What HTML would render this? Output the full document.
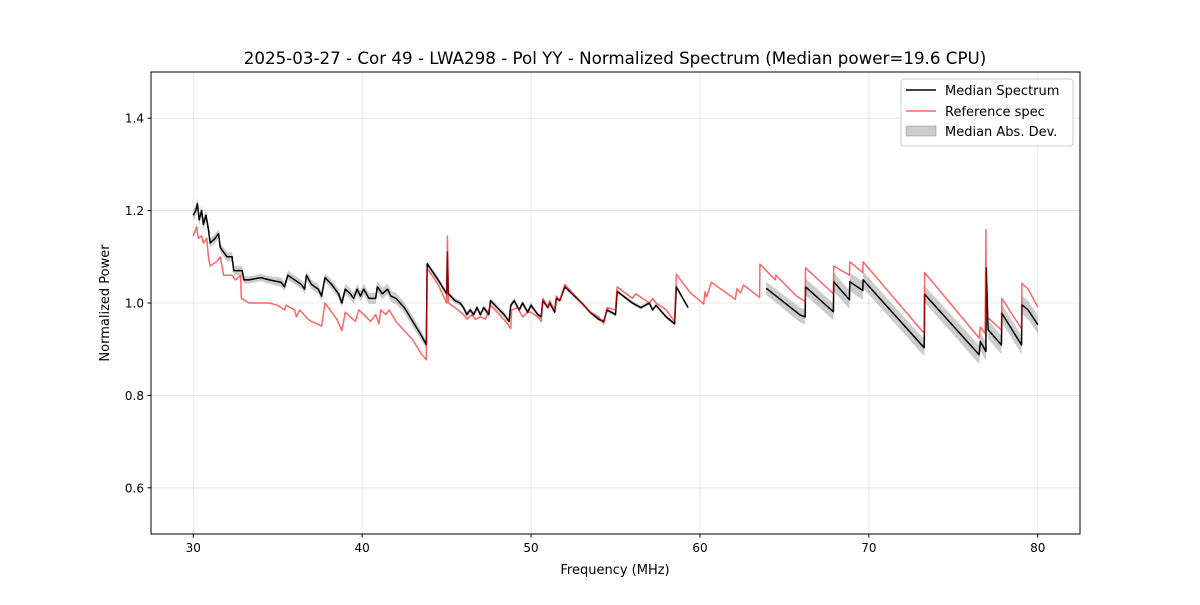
<!DOCTYPE html>
<html><head><meta charset="utf-8">
<style>
body{margin:0;background:#fff;font-family:"Liberation Sans","DejaVu Sans",sans-serif;}
svg text{font-family:"DejaVu Sans","Liberation Sans",sans-serif;}
</style></head>
<body>
<svg id="chart" width="1200" height="600" xmlns="http://www.w3.org/2000/svg">
<rect width="1200" height="600" fill="#fff"/>
<text x="615" y="64" font-size="16.7" text-anchor="middle">2025-03-27 - Cor 49 - LWA298 - Pol YY - Normalized Spectrum (Median power=19.6 CPU)</text>
<g id="grid"></g>
<clipPath id="clip"><rect x="151" y="72" width="929" height="462"/></clipPath>
<g id="series" clip-path="url(#clip)"></g>
<rect x="151" y="72" width="929" height="462" fill="none" stroke="#000" stroke-width="1"/>
<g id="ticks"></g>
<text x="615" y="574" font-size="13" text-anchor="middle">Frequency (MHz)</text>
<text transform="translate(109,303) rotate(-90)" font-size="13" text-anchor="middle">Normalized Power</text>
<g>
<rect x="901" y="79" width="172" height="67" fill="#fff" fill-opacity="0.8" stroke="#ccc" rx="3"/>
<line x1="906" y1="90" x2="936" y2="90" stroke="#000" stroke-width="1.5"/>
<text x="945" y="95" font-size="13">Median Spectrum</text>
<line x1="906" y1="111" x2="936" y2="111" stroke="#ff0000" stroke-opacity="0.6" stroke-width="1.5"/>
<text x="945" y="116" font-size="13">Reference spec</text>
<rect x="906" y="126" width="30" height="10" fill="#000" fill-opacity="0.2" stroke="#000" stroke-opacity="0.2"/>
<text x="945" y="136" font-size="13">Median Abs. Dev.</text>
</g>
</svg>
<script>
const xTicks=[30,40,50,60,70,80];
const yTicks=[0.6,0.8,1.0,1.2,1.4];
const yTickLabels=["0.6","0.8","1.0","1.2","1.4"];
const medFreq=[30.0,30.15,30.25,30.35,30.5,30.6,30.75,30.9,31.0,31.3,31.5,31.6,31.8,32.0,32.3,32.4,32.7,32.9,33.0,33.3,34.0,34.5,35.2,35.4,35.6,36.0,36.4,36.6,36.7,37.0,37.4,37.6,37.8,38.2,38.6,38.8,39.0,39.3,39.5,39.7,39.9,40.1,40.4,40.6,40.8,40.9,41.2,41.5,41.7,42.0,42.5,43.0,43.5,43.8,43.85,44.5,45.0,45.05,45.1,45.5,45.8,46.0,46.2,46.4,46.6,46.8,47.0,47.2,47.5,47.6,48.0,48.4,48.7,48.8,49.0,49.3,49.5,49.8,50.0,50.4,50.6,50.7,51.0,51.1,51.4,51.5,51.7,52.0,53.0,53.5,54.0,54.3,54.5,55.0,55.1,56.0,56.5,57.0,57.2,57.4,58.0,58.5,58.6,59.3,
 null,
 63.92,65.93,66.23,66.25,67.9,67.92,68.85,68.87,69.64,69.66,73.28,73.3,76.53,76.6,76.93,76.95,77.06,77.85,77.87,79.04,79.06,79.43,80.0];
const medVal=[1.19,1.2,1.215,1.18,1.2,1.17,1.19,1.16,1.13,1.14,1.15,1.12,1.11,1.1,1.1,1.07,1.07,1.07,1.05,1.05,1.055,1.05,1.045,1.035,1.06,1.05,1.04,1.03,1.06,1.04,1.03,1.015,1.055,1.04,1.02,1.0,1.03,1.02,1.01,1.03,1.015,1.03,1.01,1.01,1.01,1.035,1.02,1.03,1.015,1.01,0.99,0.96,0.93,0.91,1.085,1.05,1.02,1.11,1.02,1.005,1.0,0.99,0.975,0.985,0.975,0.99,0.975,0.99,0.975,1.005,0.99,0.975,0.96,0.995,1.005,0.985,1.0,0.98,0.995,0.975,0.97,1.005,0.99,1.0,0.98,1.01,1.005,1.035,1.0,0.98,0.965,0.96,0.985,0.975,1.025,1.0,0.99,1.0,0.985,0.995,0.97,0.955,1.035,0.99,
 null,
 1.032,0.974,0.97,1.035,0.981,1.046,1.007,1.046,1.027,1.05,0.903,1.019,0.888,0.917,0.895,1.076,0.942,0.909,0.978,0.909,0.996,0.985,0.953];
const medMad=[0.012,0.012,0.012,0.012,0.012,0.012,0.012,0.012,0.01,0.01,0.01,0.01,0.01,0.01,0.01,0.01,0.01,0.01,0.008,0.008,0.008,0.008,0.01,0.01,0.01,0.01,0.01,0.01,0.01,0.01,0.01,0.01,0.01,0.01,0.01,0.01,0.012,0.012,0.012,0.012,0.012,0.012,0.012,0.012,0.012,0.012,0.012,0.012,0.012,0.012,0.012,0.012,0.01,0.008,0.006,0.006,0.006,0.004,0.006,0.006,0.006,0.006,0.006,0.006,0.006,0.006,0.006,0.006,0.006,0.006,0.006,0.006,0.006,0.006,0.006,0.006,0.006,0.006,0.006,0.004,0.004,0.004,0.004,0.004,0.004,0.004,0.004,0.004,0.004,0.004,0.004,0.004,0.004,0.004,0.004,0.004,0.004,0.004,0.004,0.004,0.004,0.004,0.004,0.004,
 null,
 0.014,0.016,0.016,0.018,0.018,0.02,0.02,0.02,0.02,0.018,0.018,0.018,0.02,0.02,0.02,0.02,0.02,0.02,0.02,0.02,0.02,0.02,0.02];
const refFreq=[30.0,30.2,30.3,30.5,30.6,30.8,30.9,31.0,31.4,31.6,31.8,32.3,32.5,32.8,32.85,33.3,34.0,34.5,35.0,35.2,35.4,35.5,36.0,36.1,36.3,36.8,37.0,37.6,37.8,38.5,38.8,39.0,39.3,39.6,39.8,40.1,40.5,40.8,41.0,41.1,41.4,41.6,42.0,42.5,43.0,43.5,43.8,43.85,44.5,45.0,45.05,45.1,45.5,46.0,46.2,46.5,46.7,47.0,47.3,47.6,48.0,48.5,48.8,48.85,49.2,49.5,49.8,50.0,50.4,50.6,50.7,51.0,51.1,51.4,51.5,51.7,52.0,53.0,53.5,54.0,54.3,54.5,55.0,55.1,56.0,56.2,57.0,57.2,57.4,58.0,58.5,58.6,59.43,60.22,60.3,60.4,60.67,62.09,62.2,62.4,62.58,63.53,63.55,64.46,64.5,65.74,66.23,66.25,67.9,67.92,68.85,68.87,69.64,69.66,73.28,73.3,76.53,76.6,76.88,76.93,76.95,77.0,77.85,77.87,79.04,79.06,79.43,80.0];
const refVal=[1.145,1.165,1.14,1.145,1.13,1.14,1.1,1.08,1.09,1.1,1.06,1.06,1.05,1.06,1.01,1.0,1.0,1.0,0.995,0.99,0.985,0.995,0.985,0.97,0.985,0.965,0.96,0.95,1.0,0.965,0.94,0.98,0.97,0.96,0.985,0.975,0.96,0.975,0.955,0.985,0.975,0.985,0.96,0.94,0.92,0.89,0.877,1.075,1.04,1.0,1.145,1.0,0.99,0.975,0.965,0.975,0.965,0.97,0.965,0.995,0.98,0.96,0.945,0.985,0.99,0.97,0.98,0.98,0.97,0.96,1.01,0.99,1.005,0.985,1.015,1.005,1.04,1.0,0.98,0.97,0.955,0.99,0.985,1.035,1.01,1.02,1.0,1.01,1.0,0.985,0.96,1.062,1.022,0.998,1.024,1.013,1.045,1.008,1.031,1.022,1.039,1.012,1.084,1.05,1.06,1.014,1.003,1.076,1.02,1.08,1.06,1.089,1.066,1.089,0.934,1.066,0.924,0.948,0.934,1.159,0.97,0.97,0.941,1.01,0.944,1.043,1.03,0.991];

const X0=151,X1=1080,Y0=534,Y1=72,xmin=27.5,xmax=82.5,ymin=0.5,ymax=1.5;
const sx=f=>X0+(f-xmin)/(xmax-xmin)*(X1-X0);
const sy=v=>Y0-(v-ymin)/(ymax-ymin)*(Y0-Y1);
const NS="http://www.w3.org/2000/svg";
function mk(tag,attrs,parent){const e=document.createElementNS(NS,tag);for(const k in attrs)e.setAttribute(k,attrs[k]);parent.appendChild(e);return e;}
const grid=document.getElementById('grid'),ticks=document.getElementById('ticks'),ser=document.getElementById('series');
xTicks.forEach(t=>{
 const g=mk('line',{x1:sx(t),x2:sx(t),y1:Y1,y2:Y0,stroke:'#b0b0b0','stroke-opacity':0.35,'stroke-width':0.8},grid);
 
 
 mk('line',{x1:sx(t),x2:sx(t),y1:Y0,y2:Y0+3.5,stroke:'#000'},ticks);
 const tx=mk('text',{x:sx(t),y:Y0+18,'font-size':12,'text-anchor':'middle'},ticks);tx.textContent=t;
 
 
});
yTicks.forEach((t,i)=>{
 const g=mk('line',{x1:X0,x2:X1,y1:sy(t),y2:sy(t),stroke:'#b0b0b0','stroke-opacity':0.35,'stroke-width':0.8},grid);
 
 
 mk('line',{x1:X0-3.5,x2:X0,y1:sy(t),y2:sy(t),stroke:'#000'},ticks);
 const tx=mk('text',{x:X0-7,y:sy(t)+4.5,'font-size':12,'text-anchor':'end'},ticks);tx.textContent=yTickLabels[i];
 
 
});
function segments(fs){const segs=[];let cur=[];fs.forEach((f,i)=>{if(f===null){if(cur.length)segs.push(cur);cur=[];}else cur.push(i);});if(cur.length)segs.push(cur);return segs;}
segments(medFreq).forEach(seg=>{
 const up=seg.map(i=>sx(medFreq[i])+','+sy(medVal[i]+medMad[i]));
 const dn=seg.slice().reverse().map(i=>sx(medFreq[i])+','+sy(medVal[i]-medMad[i]));
 const p=mk('polygon',{points:up.concat(dn).join(' '),fill:'#000','fill-opacity':0.2},ser);
 
 
});
segments(medFreq).forEach(seg=>{
 const p=mk('polyline',{points:seg.map(i=>sx(medFreq[i])+','+sy(medVal[i])).join(' '),fill:'none',stroke:'#000','stroke-width':1.5,'stroke-linejoin':'round'},ser);
 
 
});
const r=mk('polyline',{points:refFreq.map((f,i)=>sx(f)+','+sy(refVal[i])).join(' '),fill:'none',stroke:'#ff0000','stroke-opacity':0.6,'stroke-width':1.5,'stroke-linejoin':'round'},ser);


</script>
</body></html>
